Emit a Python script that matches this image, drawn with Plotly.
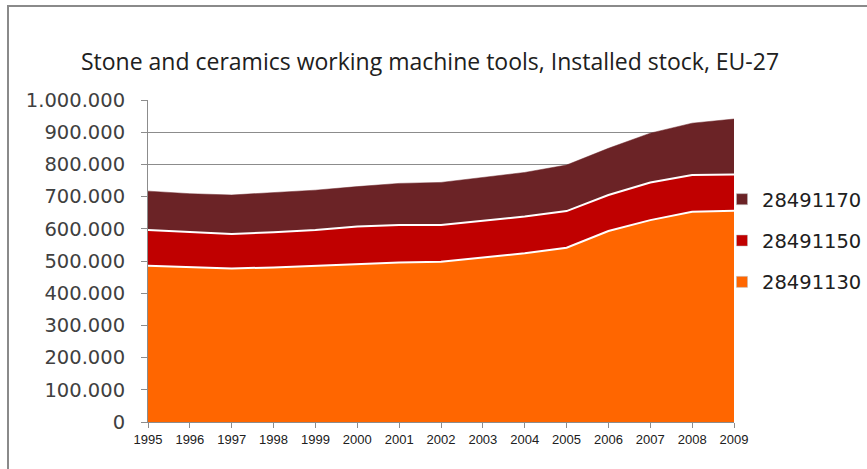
import plotly.graph_objects as go

# Installed stock of stone and ceramics working machine tools, EU-27 (units)
years = [str(y) for y in range(1995, 2010)]
s_28491130 = [485000, 481000, 477000, 480000, 485000, 491000, 495000, 498000,
              511000, 524000, 541000, 593000, 627000, 653000, 656000]
s_28491150 = [111000, 108000, 107000, 109000, 111000, 116000, 117000, 114000,
              114000, 114000, 114000, 112000, 117000, 114000, 113000]
s_28491170 = [121000, 120000, 121000, 124000, 124000, 124000, 129000, 132000,
              134000, 137000, 143000, 145000, 153000, 161000, 172000]

W, H = 867, 469
L, R, T, B = 148, 133, 100, 47

fig = go.Figure()
series = [
    ("28491130", s_28491130, "#FF6600", "white", 2, 3),
    ("28491150", s_28491150, "#C00000", "white", 2, 2),
    ("28491170", s_28491170, "#6B2326", "#6B2326", 0.5, 1),
]
for name, vals, fill, lc, lw, rank in series:
    fig.add_trace(go.Scatter(
        x=years, y=vals, name=name, mode="lines", stackgroup="one",
        fillcolor=fill, line=dict(color=lc, width=lw),
        legendgroup=name, showlegend=False,
    ))
    # square legend key for the series
    fig.add_trace(go.Scatter(
        x=[None], y=[None], name=name, mode="markers",
        marker=dict(symbol="square", size=11, color=fill,
                    line=dict(color="#bbbbbb", width=0.5)),
        legendgroup=name, legendrank=rank, showlegend=True, hoverinfo="skip",
    ))

# chart frame (left and top edges)
def px_x(p):
    return (p - L) / (W - L - R)

def px_y(p):
    return 1 - (p - T) / (H - T - B)

fig.add_shape(type="line", xref="paper", yref="paper",
              x0=px_x(8), x1=px_x(8), y0=px_y(6), y1=px_y(H + 5),
              line=dict(color="#8a8a8a", width=2))
fig.add_shape(type="line", xref="paper", yref="paper",
              x0=px_x(7), x1=px_x(W), y0=px_y(6), y1=px_y(6),
              line=dict(color="#8a8a8a", width=2))

fig.update_layout(
    width=W, height=H,
    margin=dict(l=L, r=R, t=T, b=B, autoexpand=False),
    paper_bgcolor="white", plot_bgcolor="white",
    separators=",.",
    title=dict(text="Stone and ceramics working machine tools, Installed stock, EU-27",
               x=430 / W, xref="container", xanchor="center",
               y=1 - 62 / H, yref="container", yanchor="middle",
               font=dict(family="Open Sans", size=23, color="#202020")),
    xaxis=dict(
        type="category", range=[0, 14], showgrid=False,
        showline=True, linecolor="#8c8c8c", linewidth=1,
        ticks="outside", ticklen=5, tickcolor="#8c8c8c",
        tickfont=dict(family="Liberation Sans", size=13, color="#202020"),
    ),
    yaxis=dict(
        range=[0, 1000000], dtick=100000, tickformat=",d",
        showgrid=True, gridcolor="#8c8c8c", gridwidth=1,
        showline=True, linecolor="#8c8c8c", linewidth=1,
        ticks="outside", ticklen=6, tickcolor="#8c8c8c",
        ticklabelstandoff=12,
        tickfont=dict(family="DejaVu Sans", size=19.5, color="#404040"),
        zeroline=False,
    ),
    legend=dict(
        xref="container", x=722 / W, xanchor="left",
        yref="container", y=1 - 241 / H, yanchor="middle",
        traceorder="grouped", tracegroupgap=13,
        font=dict(family="DejaVu Sans", size=19.5, color="#202020"),
        itemwidth=30, bgcolor="rgba(0,0,0,0)",
    ),
    showlegend=True,
)

fig.write_html("out.html", config={"displayModeBar": False})
